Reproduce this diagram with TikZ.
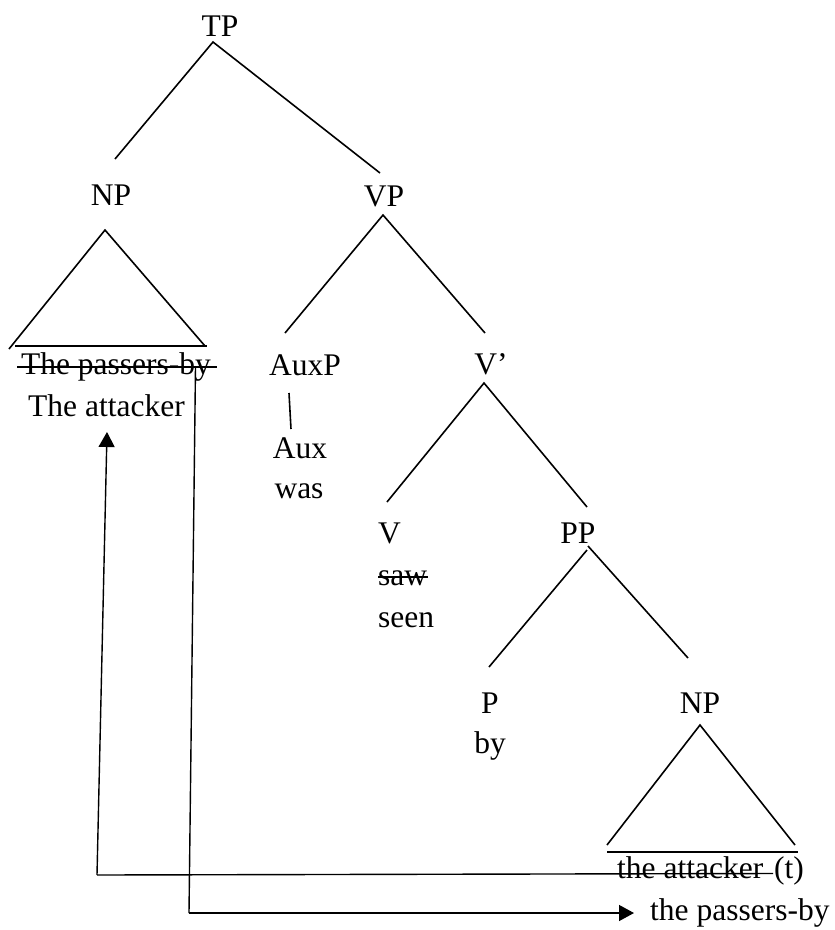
\documentclass[tikz,border=0pt]{standalone}
\usepackage{fontspec}
\setmainfont{Liberation Serif}
\usetikzlibrary{arrows.meta}
\begin{document}
\begin{tikzpicture}[x=1pt,y=-1pt,
  lbl/.style={inner sep=0pt,anchor=base,font=\fontsize{31.5}{37}\selectfont},
  lblw/.style={lbl,anchor=base west},
  branch/.style={line width=1.6pt},
  mv/.style={line width=1.4pt},
  mvarrow/.style={mv,-{Triangle[length=15pt,width=16pt]}}]
\useasboundingbox[fill=white] (0,0) rectangle (835,930);

% category labels and words
\node[lbl] (TP) at (220,36) {TP};
\node[lbl] (NPs) at (111,205) {NP};
\node[lbl] (VP) at (384,206) {VP};
\node[lbl] (oldsubj) at (116,374) {The passers-by};
\node[lbl] (newsubj) at (106.5,416) {The attacker};
\node[lbl] (AuxP) at (305,375) {AuxP};
\node[lbl] (Vbar) at (491,374) {V’};
\node[lbl] (Aux) at (300,458) {Aux};
\node[lbl] (was) at (299,498) {was};
\node[lblw] (V) at (378,543) {V};
\node[lblw] (saw) at (378,585) {saw};
\node[lblw] (seen) at (378,627) {seen};
\node[lbl] (PP) at (578,543) {PP};
\node[lbl] (P) at (490,713) {P};
\node[lbl] (by) at (490,753) {by};
\node[lbl] (NPo) at (700,713) {NP};
\node[lblw] (trace) at (617,878) {the attacker};
\node[lblw] (t) at (774,878) {(t)};
\node[lblw] (agent) at (650,920) {the passers-by};

% branch end points
\coordinate (TPb) at (213,42);
\coordinate (TPl) at (115,159);
\coordinate (TPr) at (380,173);
\coordinate (NPsa) at (105,230);
\coordinate (NPsl) at (9,349);
\coordinate (NPsr) at (205,346);
\coordinate (NPsbl) at (15,346);
\coordinate (NPsbr) at (207,346);
\coordinate (VPb) at (383,215);
\coordinate (VPl) at (285,333);
\coordinate (VPr) at (485,333);
\coordinate (AuxPb) at (289,393);
\coordinate (Auxt) at (291,429);
\coordinate (Vbarb) at (484,383);
\coordinate (Vbarl) at (387,502);
\coordinate (Vbarr) at (587,507);
\coordinate (PPbl) at (587,550);
\coordinate (PPbr) at (588,546);
\coordinate (PPl) at (489,667);
\coordinate (PPr) at (688,658);
\coordinate (NPoa) at (700,725);
\coordinate (NPol) at (607,845);
\coordinate (NPor) at (795,845);
\coordinate (NPobl) at (607,852);
\coordinate (NPobr) at (798,852);

% tree branches
\draw[branch] (TPl) -- (TPb) -- (TPr);
\draw[branch] (NPsl) -- (NPsa) -- (NPsr);
\draw[branch] (NPsbl) -- (NPsbr);
\draw[branch] (VPl) -- (VPb) -- (VPr);
\draw[branch] (AuxPb) -- (Auxt);
\draw[branch] (Vbarl) -- (Vbarb) -- (Vbarr);
\draw[branch] (PPl) -- (PPbl);
\draw[branch] (PPbr) -- (PPr);
\draw[branch] (NPol) -- (NPoa) -- (NPor);
\draw[branch] (NPobl) -- (NPobr);

% struck-out words
\coordinate (strikeA) at (17,367);
\coordinate (strikeB) at (217,367);
\draw[mv] (strikeA) -- (strikeB);
\coordinate (sawA) at (378,577);
\coordinate (sawB) at (428,577);
\draw[mv] (sawA) -- (sawB);

% movement of the object to subject position
\coordinate (traceEnd) at (773,873.5);
\coordinate (moveCorner) at (97,875);
\coordinate (moveTip) at (107,432);
\draw[mv] (traceEnd) -- (moveCorner);
\draw[mvarrow] (moveCorner) -- (moveTip);

% demotion of the subject to the by-phrase
\coordinate (demoteStart) at (195.5,367);
\coordinate (demoteCorner) at (189,913);
\coordinate (demoteTip) at (634,913);
\draw[mv] (demoteStart) -- (demoteCorner);
\draw[mvarrow] (demoteCorner) -- (demoteTip);
\end{tikzpicture}
\end{document}
